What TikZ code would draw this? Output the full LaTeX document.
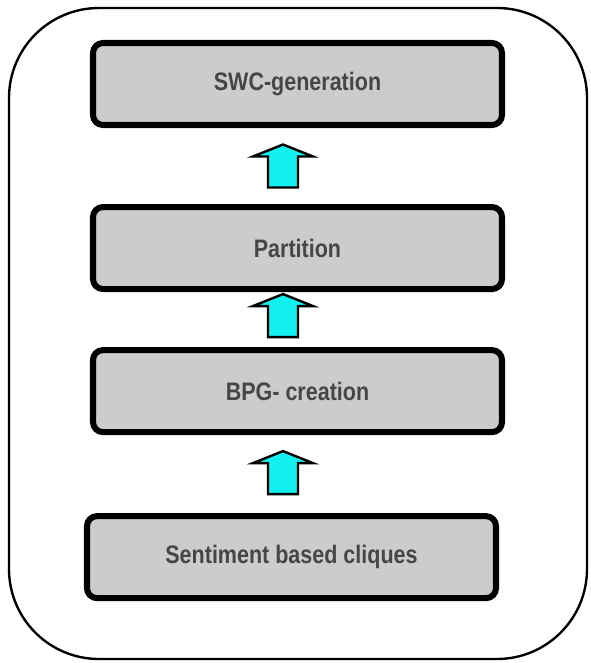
\documentclass[tikz,border=0pt]{standalone}
\usepackage{fontspec}
\setsansfont{Liberation Sans}[FakeStretch=0.85]
\usetikzlibrary{positioning, calc}

\definecolor{boxgray}{RGB}{204,204,204}
\definecolor{textgray}{RGB}{70,70,70}
\definecolor{arrowcyan}{RGB}{20,240,240}

\begin{document}
\begin{tikzpicture}[node distance=2cm,
  stage node/.style={rectangle,rounded corners=0.25cm,draw,line width=4.3pt,fill=boxgray,
    minimum width=10.225cm,minimum height=2.05cm,text=textgray,
    font=\sffamily\bfseries\fontsize{18}{22}\selectfont},
  up arrow/.pic={\draw[line width=1.7pt,fill=arrowcyan,line join=miter]
    (-0.375,0) -- (-0.375,0.775) -- (-0.75,0.775) -- (0,1.075) -- (0.75,0.775)
    -- (0.375,0.775) -- (0.375,0) -- cycle;}]

  \useasboundingbox (0,0) rectangle (14.75,-16.575);
  \draw[line width=1.7pt,rounded corners=2.25cm] (0.225,-0.2) rectangle (14.675,-16.475);

  \node[stage node] (1) at (7.4375,-2.1) {SWC-generation};
  \node[stage node] (2) [below=1.9cm of 1] {Partition};
  \node[stage node] (3) [below=1.375cm of 2] {BPG- creation};
  \node[stage node] (4) [below=1.95cm of 3, xshift=-0.15cm] {Sentiment based cliques};

  \pic at ($(2.north)+(-0.3625,0.4125)$) {up arrow};
  \pic at ($(3.north)+(-0.3625,0.25)$) {up arrow};
  \pic at ($(4.north)+(-0.2125,0.475)$) {up arrow};
\end{tikzpicture}
\end{document}
